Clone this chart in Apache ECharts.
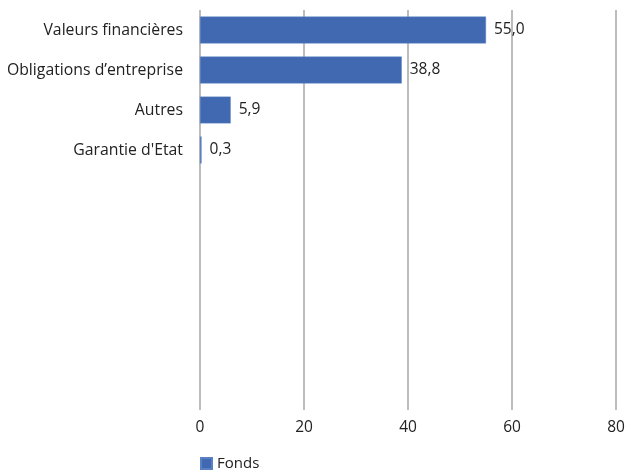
<!DOCTYPE html>
<html><head><meta charset="utf-8">
<script src="https://cdn.jsdelivr.net/npm/echarts@6/dist/echarts.min.js"></script>
<style>html,body{margin:0;padding:0;background:#fff}#c{width:630px;height:472px}</style>
</head><body><div id="c"></div>
<script>
const categories = ["Valeurs financières", "Obligations d’entreprise", "Autres", "Garantie d'Etat", "", "", "", "", "", ""];
const fonds = [55.0, 38.8, 5.9, 0.3, null, null, null, null, null, null];
const xTicks = [0, 20, 40, 60, 80];
const seriesName = "Fonds";

const chart = echarts.init(document.getElementById('c'));
const font = "'Open Sans', 'Noto Sans', sans-serif";
chart.setOption({
  animation: false,
  textStyle: {fontFamily: font},
  grid: {left: 200, right: 14, top: 10, height: 400, containLabel: false},
  legend: {
    data: [seriesName], left: 195, top: 451, itemWidth: 11, itemHeight: 11, icon: 'rect',
    textStyle: {fontSize: 15, color: '#222', fontFamily: font}, itemGap: 5
  },
  xAxis: {
    type: 'value', min: xTicks[0], max: xTicks[xTicks.length - 1], interval: 20,
    axisLine: {show: false}, axisTick: {show: false},
    splitLine: {show: true, lineStyle: {color: '#a6a6a6', width: 1.5}},
    axisLabel: {fontSize: 15.5, color: '#222', margin: 10, fontFamily: font}
  },
  yAxis: {
    type: 'category', data: categories, inverse: true,
    axisLine: {show: false}, axisTick: {show: false},
    axisLabel: {fontSize: 15.8, color: '#222', margin: 17, fontFamily: font}
  },
  series: [{
    name: seriesName, type: 'bar', data: fonds, barWidth: '67%',
    itemStyle: {color: '#4169b1', borderColor: '#5a80c4', borderWidth: 0.5},
    label: {show: true, position: 'right', distance: 8, fontSize: 15.5, color: '#222', fontFamily: font,
      formatter: p => p.value == null ? '' : p.value.toFixed(1).replace('.', ',')}
  }]
});
</script></body></html>
